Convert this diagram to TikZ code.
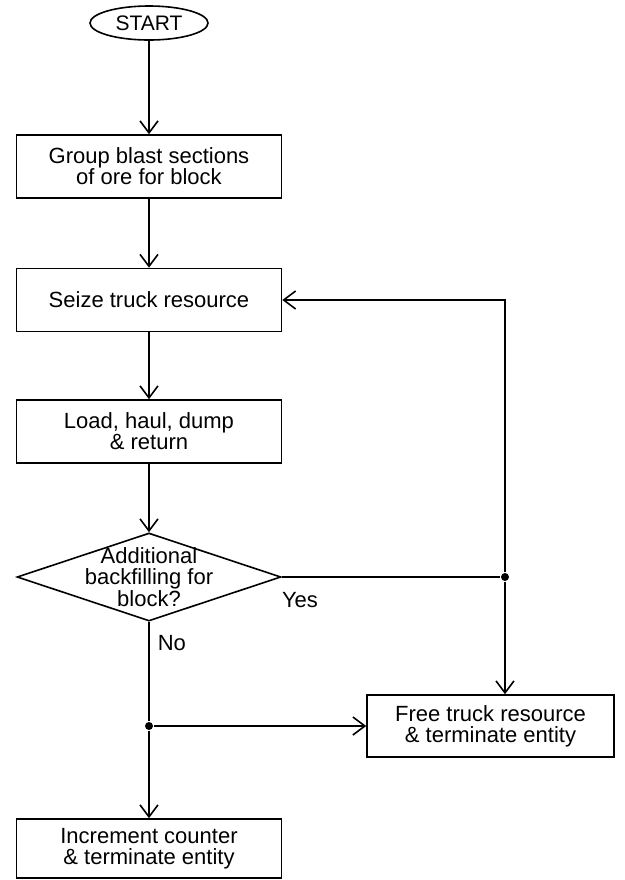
\documentclass[tikz,border=0pt]{standalone}
\usepackage{fontspec}
\setmainfont{Liberation Sans}
\usetikzlibrary{shapes.geometric,arrows.meta}
\begin{document}
\begin{tikzpicture}[x=0.5pt,y=-0.5pt,
  line width=0.8pt,
  procbox/.style={draw, align=center, inner sep=0pt, minimum width=132.5pt,
    minimum height=31.5pt, font=\fontsize{11}{10.4}\selectfont},
  arr/.style={-{Straight Barb[length=6pt,width=9pt]}},
  junct/.style={circle, fill, inner sep=0pt, minimum size=4pt},
  lbl/.style={inner sep=0pt, font=\fontsize{11}{10.4}\selectfont}]
\useasboundingbox (0,0) rectangle (625,880);

\node[draw, ellipse, inner sep=1pt, minimum width=59pt, minimum height=17pt,
  font=\fontsize{10.5}{10.5}\selectfont] (start) at (149,23) {START};

\node[procbox] (group) at (149,166.5)
{Group blast sections\\
of ore for block};

\node[procbox] (seize) at (149,300)
{Seize truck resource};

\node[procbox] (load) at (149,431.5)
{Load, haul, dump\\
\& return};

\node[draw, diamond, inner sep=0pt, minimum width=132pt, minimum height=44pt,
  label={[lbl, align=center, font=\fontsize{11}{10.85}\selectfont]center:Additional\\
  backfilling for\\
  block?}] (decide) at (149,577) {};

\node[procbox, minimum width=123.5pt, minimum height=31pt] (free) at (490.5,726)
{Free truck resource\\
\& terminate entity};

\node[procbox, minimum height=29.5pt] (increment) at (149,848.5)
{Increment counter\\
\& terminate entity};

\node[junct] (yesdot) at (505,577) {};
\node[junct] (nodot) at (149,726) {};

\node[lbl] (yes) at (300,600) {Yes};
\node[lbl, anchor=west] (no) at (157,643) {No};

\draw[arr] (start) -- (group);
\draw[arr] (group) -- (seize);
\draw[arr] (seize) -- (load);
\draw[arr] (load) -- (decide);

\draw (decide.east) -- (yesdot);
\draw[arr] (yesdot) |- (seize.east);
\draw[arr] (yesdot) -- (yesdot |- free.north);

\draw (decide.south) -- (nodot);
\draw[arr] (nodot) -- (free.west);
\draw[arr] (nodot) -- (increment);
\end{tikzpicture}
\end{document}
